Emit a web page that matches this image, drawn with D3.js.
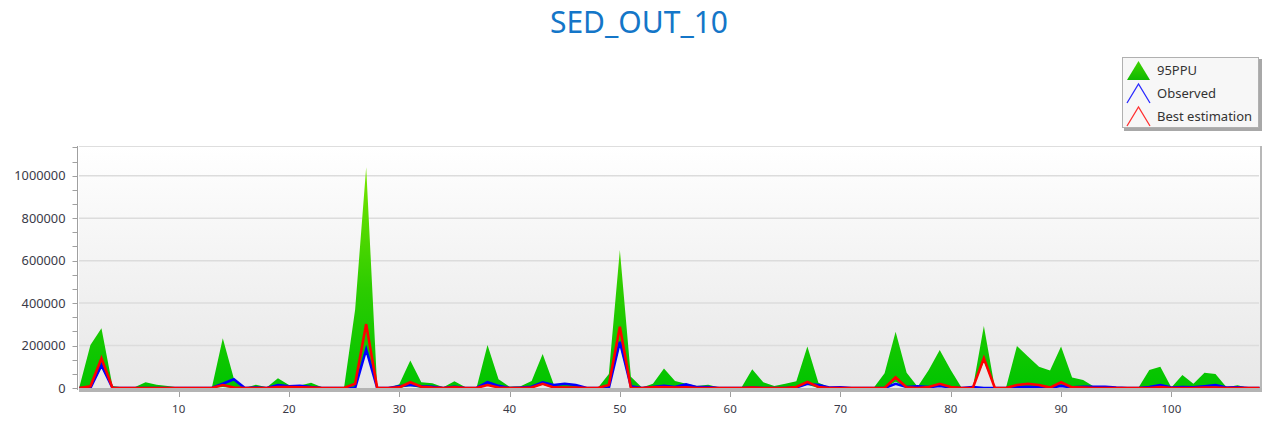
<!DOCTYPE html>
<html>
<head>
<meta charset="utf-8">
<script src="https://cdn.jsdelivr.net/npm/d3@7"></script>
<style>
  html, body { margin: 0; padding: 0; background: #ffffff; }
  svg { display: block; font-family: "Noto Sans", "DejaVu Sans", sans-serif; }
</style>
</head>
<body>
<svg id="chart" width="1269" height="423"></svg>
<script>
// Time steps 1..108
const steps = d3.range(1, 109);

// Upper bound of the 95PPU band
const upper95 = [
  5000, 202000, 281000, 10000, 2000, 3000, 27000, 15000, 10000, 2000,
  0, 0, 0, 234000, 45000, 0, 15000, 3000, 46000, 14000,
  12000, 25000, 4000, 0, 3000, 370000, 1040000, 0, 0, 18000,
  129000, 27000, 22000, 3000, 32000, 3000, 0, 202000, 41000, 6000,
  8000, 33000, 160000, 18000, 20000, 14000, 0, 0, 66000, 650000,
  53000, 2000, 20000, 92000, 33000, 20000, 10000, 15000, 2000, 0,
  0, 88000, 27000, 10000, 20000, 32000, 195000, 25000, 4000, 6000,
  0, 0, 0, 69000, 265000, 72000, 6000, 85000, 179000, 85000,
  0, 0, 292000, 0, 0, 198000, 148000, 100000, 82000, 195000,
  49000, 38000, 6000, 6000, 0, 0, 0, 85000, 100000, 2000,
  61000, 20000, 72000, 66000, 3000, 13000, 0, 0
];

// Lower bound of the 95PPU band
const lower95 = [
  0, 0, 95000, 0, 0, 0, 0, 0, 0, 0,
  0, 0, 0, 5000, 0, 0, 0, 0, 0, 0,
  0, 0, 0, 0, 0, 0, 170000, 0, 0, 0,
  10000, 0, 0, 0, 0, 0, 0, 15000, 0, 0,
  0, 0, 15000, 0, 0, 0, 0, 0, 0, 200000,
  0, 0, 0, 0, 0, 0, 0, 0, 0, 0,
  0, 0, 0, 0, 0, 0, 15000, 0, 0, 0,
  0, 0, 0, 0, 30000, 0, 0, 0, 10000, 0,
  0, 0, 125000, 0, 0, 5000, 5000, 5000, 0, 10000,
  0, 0, 0, 0, 0, 0, 0, 0, 5000, 0,
  0, 0, 0, 5000, 0, 0, 0, 0
];

// Observed series
const observed = [
  0, 0, 108000, 0, 0, 0, 0, 0, 0, 0,
  0, 0, 0, 20000, 41000, 0, 2000, 0, 14000, 8000,
  10000, 4000, 0, 0, 0, 0, 182000, 0, 0, 8000,
  14000, 8000, 6000, 0, 6000, 0, 0, 27000, 10000, 0,
  2000, 6000, 27000, 14000, 20000, 14000, 0, 0, 0, 218000,
  8000, 0, 5000, 10000, 5000, 17000, 4000, 5000, 0, 0,
  0, 2000, 0, 0, 0, 3000, 20000, 14000, 2000, 3000,
  0, 0, 0, 0, 20000, 5000, 8000, 4000, 10000, 2000,
  0, 5000, 0, 0, 0, 4000, 6000, 5000, 2000, 10000,
  3000, 6000, 6000, 6000, 2000, 0, 0, 5000, 14000, 2000,
  5000, 3000, 8000, 14000, 2000, 3000, 0, 0
];

// Best estimation series
const bestEstimation = [
  0, 8000, 140000, 0, 0, 0, 0, 0, 0, 0,
  0, 0, 0, 14000, 2000, 0, 0, 0, 5000, 5000,
  3000, 2000, 0, 0, 0, 20000, 301000, 0, 0, 3000,
  27000, 6000, 2000, 0, 3000, 0, 0, 14000, 2000, 0,
  0, 2000, 20000, 3000, 2000, 2000, 0, 0, 14000, 289000,
  0, 0, 3000, 5000, 2000, 3000, 0, 0, 0, 0,
  0, 2000, 0, 0, 0, 5000, 29000, 5000, 0, 0,
  0, 0, 0, 0, 50000, 3000, 0, 5000, 20000, 5000,
  0, 0, 140000, 0, 0, 14000, 20000, 14000, 2000, 27000,
  3000, 2000, 0, 0, 0, 0, 0, 0, 5000, 0,
  0, 0, 2000, 2000, 0, 0, 0, 0
];

const xTickValues = [10, 20, 30, 40, 50, 60, 70, 80, 90, 100];
const yTickValues = [0, 200000, 400000, 600000, 800000, 1000000];

const svg = d3.select("#chart");
const plot = { left: 79, right: 1260, top: 146, bottom: 388 };

const x = d3.scaleLinear().domain([1, 108]).range([plot.left + 0.4, plot.right - 0.4]);
const y = d3.scaleLinear().domain([0, 1140000]).range([plot.bottom, plot.top]);

const defs = svg.append("defs");

// plot background: white fading to light grey
const bg = defs.append("linearGradient").attr("id", "bgGrad")
  .attr("x1", 0).attr("y1", 0).attr("x2", 0).attr("y2", 1);
bg.append("stop").attr("offset", "0%").attr("stop-color", "#ffffff");
bg.append("stop").attr("offset", "100%").attr("stop-color", "#e7e7e7");

// band fill: yellow-green at the tips, solid green lower down
const bandGrad = defs.append("linearGradient").attr("id", "bandGrad")
  .attr("gradientUnits", "userSpaceOnUse")
  .attr("x1", 0).attr("x2", 0)
  .attr("y1", y(1040000)).attr("y2", y(0));
bandGrad.append("stop").attr("offset", "0%").attr("stop-color", "#7ae600");
bandGrad.append("stop").attr("offset", "55%").attr("stop-color", "#2ccc00");
bandGrad.append("stop").attr("offset", "100%").attr("stop-color", "#00c400");

// legend triangle fill
const legGrad = defs.append("linearGradient").attr("id", "legGrad")
  .attr("x1", 0).attr("y1", 0).attr("x2", 0).attr("y2", 1);
legGrad.append("stop").attr("offset", "0%").attr("stop-color", "#3fd400");
legGrad.append("stop").attr("offset", "100%").attr("stop-color", "#10b800");

// title
svg.append("text")
  .attr("x", 639).attr("y", 32.5)
  .attr("text-anchor", "middle")
  .attr("font-size", 30)
  .attr("fill", "#1476c8")
  .text("SED_OUT_10");

// plot frame with shadow on the right
svg.append("rect")
  .attr("x", plot.right - 1).attr("y", plot.top)
  .attr("width", 3).attr("height", plot.bottom - plot.top + 4)
  .attr("fill", "#b8b8b8");
svg.append("rect")
  .attr("x", plot.left).attr("y", plot.top)
  .attr("width", plot.right - plot.left).attr("height", plot.bottom - plot.top)
  .attr("fill", "url(#bgGrad)");
svg.append("line")
  .attr("x1", plot.left).attr("x2", plot.right)
  .attr("y1", plot.top + 0.5).attr("y2", plot.top + 0.5)
  .attr("stroke", "#dedede");

// horizontal grid
svg.append("g").selectAll("line")
  .data(yTickValues.filter(v => v > 0))
  .join("line")
  .attr("x1", plot.left).attr("x2", plot.right - 1)
  .attr("y1", d => y(d)).attr("y2", d => y(d))
  .attr("stroke", "#dcdcdc").attr("stroke-width", 1.5);

// 95PPU band
const band = d3.area()
  .x((d, i) => x(steps[i]))
  .y0((d, i) => y(lower95[i]))
  .y1((d, i) => y(upper95[i]));
svg.append("path")
  .datum(upper95)
  .attr("d", band)
  .attr("fill", "url(#bandGrad)");

// series lines
const lineOf = arr => d3.line()
  .x((d, i) => x(steps[i]))
  .y(d => y(d))(arr);

svg.append("path")
  .attr("d", lineOf(observed))
  .attr("fill", "none")
  .attr("stroke", "#0000ff")
  .attr("stroke-width", 2.6)
  .attr("stroke-linejoin", "miter");

svg.append("path")
  .attr("d", lineOf(bestEstimation))
  .attr("fill", "none")
  .attr("stroke", "#ff0000")
  .attr("stroke-width", 2.6)
  .attr("stroke-linejoin", "miter");

// base band under the plot
svg.append("rect")
  .attr("x", plot.left).attr("y", plot.bottom)
  .attr("width", plot.right - plot.left + 2).attr("height", 4)
  .attr("fill", "#b4b4b4");

// y axis
const yAxisG = svg.append("g").attr("transform", `translate(${plot.left - 1.5},0)`);
yAxisG.append("line")
  .attr("x1", 0).attr("x2", 0)
  .attr("y1", plot.top).attr("y2", plot.bottom + 2)
  .attr("stroke", "#a0a0a0");
const minorTicks = d3.range(0, 1140000, 200000 / 3);
yAxisG.selectAll("line.minor")
  .data(minorTicks)
  .join("line")
  .attr("class", "minor")
  .attr("x1", -5).attr("x2", 0)
  .attr("y1", d => Math.round(y(d)) + 0.5).attr("y2", d => Math.round(y(d)) + 0.5)
  .attr("stroke", "#a0a0a0");
yAxisG.selectAll("text")
  .data(yTickValues)
  .join("text")
  .attr("x", -12)
  .attr("y", d => y(d) + 4.5)
  .attr("text-anchor", "end")
  .attr("font-size", 12.8)
  .attr("fill", "#3a3a48")
  .text(d => d3.format("d")(d));

// x axis
const xAxisG = svg.append("g");
xAxisG.selectAll("line")
  .data(xTickValues)
  .join("line")
  .attr("x1", d => Math.round(x(d)) + 0.5).attr("x2", d => Math.round(x(d)) + 0.5)
  .attr("y1", plot.bottom + 4).attr("y2", plot.bottom + 9)
  .attr("stroke", "#a0a0a0");
xAxisG.selectAll("text")
  .data(xTickValues)
  .join("text")
  .attr("x", d => x(d))
  .attr("y", 413)
  .attr("text-anchor", "middle")
  .attr("font-size", 11.5)
  .attr("fill", "#3a3a48")
  .text(d => d);

// legend
const legend = svg.append("g").attr("transform", "translate(1122,57)");
legend.append("rect")
  .attr("x", 2).attr("y", 2).attr("width", 138).attr("height", 72)
  .attr("fill", "#a8a8a8");
legend.append("rect")
  .attr("x", 0.5).attr("y", 0.5).attr("width", 136).attr("height", 70)
  .attr("fill", "#f7f7f7").attr("stroke", "#b0b0b0");

const legendItems = [
  { label: "95PPU", kind: "fill" },
  { label: "Observed", kind: "#2a2aff" },
  { label: "Best estimation", kind: "#ff3030" }
];
legendItems.forEach((it, i) => {
  const gy = 3 + i * 23;
  const tri = `M5,${gy + 20} L16.5,${gy + 1} L28,${gy + 20}`;
  if (it.kind === "fill") {
    legend.append("path").attr("d", tri + " Z").attr("fill", "url(#legGrad)");
  } else {
    legend.append("path").attr("d", tri)
      .attr("fill", "none").attr("stroke", it.kind).attr("stroke-width", 1.3);
  }
  legend.append("text")
    .attr("x", 35).attr("y", gy + 15)
    .attr("font-size", 13)
    .attr("fill", "#333333")
    .text(it.label);
});
</script>
</body>
</html>
